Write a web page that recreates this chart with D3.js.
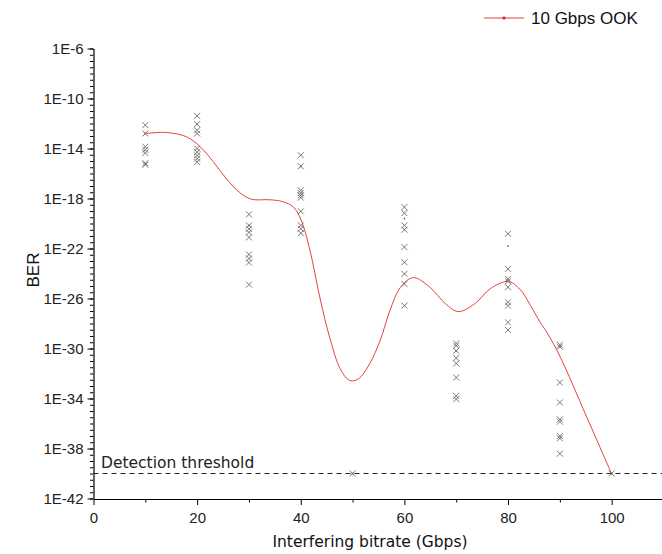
<!DOCTYPE html>
<html>
<head>
<meta charset="utf-8">
<script src="https://cdn.jsdelivr.net/npm/d3@7"></script>
<style>
  html, body { margin: 0; padding: 0; background: #fff; }
  svg { display: block; }
</style>
</head>
<body>
<svg id="chart" width="662" height="554"></svg>
<script>
// ---------------- data ----------------
const interferingBitrate = [10, 20, 30, 40, 50, 60, 70, 80, 90, 100];
// measured BER (as log10 values) per interfering bitrate
const measuredLog10BER = [
  [-12.13, -12.80, -13.86, -14.10, -14.35, -15.17, -15.30],
  [-11.39, -12.05, -12.54, -12.80, -14.00, -14.28, -14.55, -14.81, -15.08],
  [-19.27, -20.15, -20.43, -20.71, -21.11, -22.48, -22.80, -23.12, -24.89],
  [-14.54, -15.42, -17.35, -17.56, -17.75, -17.93, -19.03, -20.15, -20.42, -20.77],
  [-40],
  [-18.69, -19.17, -20.15, -20.50, -21.89, -23.10, -24.03, -24.83, -26.57],
  [-29.59, -29.78, -30.18, -30.76, -31.20, -32.32, -33.79, -34.05],
  [-20.82, -23.63, -24.43, -24.62, -25.10, -26.30, -26.57, -27.91, -28.52],
  [-29.70, -29.86, -32.72, -34.32, -35.66, -35.85, -37.00, -37.18, -38.41],
  [-40]
];
// mean BER of the 10 Gbps OOK series (log10)
const meanLog10BER = [-12.8, -12.05, -20.15, -15.42, -40, -19.6, -30.18, -21.8, -29.86, -40];
// smooth fitted curve
const fitBitrate = [10.1, 14.1, 18.0, 20.6, 23.1, 25.7, 28.3, 30.5, 34.0, 36.5, 38.5, 40.0, 41.8, 43.7, 45.7, 47.6, 49.2, 50.2, 51.4, 53.4, 55.3, 57.2, 59.2, 61.7, 65.0, 67.9, 70.4, 73.6, 76.6, 80.0, 82.3, 84.3, 86.2, 87.7, 90.1, 95.1, 100.0];
const fitLog10BER = [-12.80, -12.72, -13.07, -13.87, -15.05, -16.45, -17.55, -18.06, -18.10, -18.25, -18.65, -19.65, -22.20, -25.95, -29.30, -31.62, -32.50, -32.58, -32.34, -31.14, -29.38, -26.97, -25.13, -24.33, -25.13, -26.41, -27.05, -26.41, -25.21, -24.64, -25.26, -26.54, -27.90, -28.85, -30.70, -35.40, -40.04];
const yTickExponents = [-6, -10, -14, -18, -22, -26, -30, -34, -38, -42];
const xTickValues = [0, 20, 40, 60, 80, 100];
const thresholdBER = 1e-40;
const seriesName = "10 Gbps OOK";

// ---------------- layout ----------------
const svg = d3.select("#chart");
const x = d3.scaleLinear().domain([0, 110]).range([93.5, 663.5]);
const y = d3.scaleLog().domain([1e-42, 1e-6]).range([498.5, 48.5]);

const sans = "'Liberation Sans', Arial, sans-serif";
const uiFont = "'DejaVu Sans', sans-serif";

// minor y ticks every half decade
const yMinor = d3.range(-6, -42.01, -0.5).map(e => Math.pow(10, e));
svg.append("g").attr("transform", `translate(${x(0)},0)`)
  .call(d3.axisLeft(y).tickValues(yMinor).tickSize(3.5).tickFormat(""))
  .call(g => g.select(".domain").remove())
  .selectAll("line").attr("stroke", "#000");

const yAxis = svg.append("g").attr("transform", `translate(${x(0)},0)`)
  .call(d3.axisLeft(y).tickValues(yTickExponents.map(e => Math.pow(10, e)))
    .tickSize(6).tickSizeOuter(0).tickPadding(4)
    .tickFormat(d => "1E" + Math.round(Math.log10(d))));
yAxis.select(".domain").attr("stroke", "#000").attr("stroke-width", 1.2);
yAxis.selectAll("line").attr("stroke", "#000");
yAxis.selectAll("text").attr("font-family", sans).attr("font-size", 15).attr("fill", "#222");

// x axis
svg.append("g").attr("transform", `translate(0,${y(1e-42) + 0.5})`)
  .call(d3.axisBottom(x).tickValues([10, 30, 50, 70, 90]).tickSize(3.5).tickFormat(""))
  .call(g => g.select(".domain").remove())
  .selectAll("line").attr("stroke", "#000");
const xAxis = svg.append("g").attr("transform", `translate(0,${y(1e-42) + 0.5})`)
  .call(d3.axisBottom(x).tickValues(xTickValues).tickSize(6).tickSizeOuter(0).tickPadding(7));
xAxis.select(".domain").attr("stroke", "#000").attr("stroke-width", 1.2);
xAxis.selectAll("line").attr("stroke", "#000");
xAxis.selectAll("text").attr("font-family", sans).attr("font-size", 15).attr("fill", "#222");

// detection threshold
svg.append("line")
  .attr("x1", x(0)).attr("x2", 662)
  .attr("y1", y(thresholdBER)).attr("y2", y(thresholdBER))
  .attr("stroke", "#222").attr("stroke-width", 1).attr("stroke-dasharray", "5,4");
svg.append("text").attr("x", 101).attr("y", y(thresholdBER) - 6)
  .attr("font-family", uiFont).attr("font-size", 15.5).attr("fill", "#222")
  .text("Detection threshold");

// fitted curve
const fit = fitBitrate.map((b, i) => [b, Math.pow(10, fitLog10BER[i])]);
svg.append("path").datum(fit)
  .attr("d", d3.line().x(d => x(d[0])).y(d => y(d[1])).curve(d3.curveCatmullRom.alpha(0.5)))
  .attr("fill", "none").attr("stroke", "#e8403c").attr("stroke-width", 1);

// mean points (mostly hidden beneath the measured marks)
svg.append("g").selectAll("circle")
  .data(interferingBitrate.map((b, i) => [b, Math.pow(10, meanLog10BER[i])]))
  .join("circle")
  .attr("cx", d => x(d[0])).attr("cy", d => y(d[1])).attr("r", 0.9)
  .attr("fill", "#e8403c");

// measured points (x marks)
const pts = [];
interferingBitrate.forEach((b, i) => measuredLog10BER[i].forEach(v => pts.push([b, Math.pow(10, v)])));
const s = 3;
svg.append("g").selectAll("path").data(pts).join("path")
  .attr("d", d => {
    const cx = x(d[0]), cy = y(d[1]);
    return `M${cx - s},${cy - s}L${cx + s},${cy + s}M${cx - s},${cy + s}L${cx + s},${cy - s}`;
  })
  .attr("stroke", "#6a6a6a").attr("stroke-width", 0.9).attr("fill", "none");

// legend
svg.append("line").attr("x1", 484).attr("x2", 524).attr("y1", 18).attr("y2", 18)
  .attr("stroke", "#e8403c").attr("stroke-width", 1);
svg.append("circle").attr("cx", 504).attr("cy", 18).attr("r", 1.6).attr("fill", "#d02020");
svg.append("text").attr("x", 531).attr("y", 24)
  .attr("font-family", sans).attr("font-size", 17).attr("fill", "#111")
  .text(seriesName);

// axis titles
svg.append("text").attr("x", 370).attr("y", 547).attr("text-anchor", "middle")
  .attr("font-family", uiFont).attr("font-size", 15.5).attr("fill", "#111")
  .text("Interfering bitrate (Gbps)");
svg.append("text").attr("transform", "translate(39,270) rotate(-90)")
  .attr("text-anchor", "middle")
  .attr("font-family", sans).attr("font-size", 17).attr("fill", "#111")
  .text("BER");
</script>
</body>
</html>
